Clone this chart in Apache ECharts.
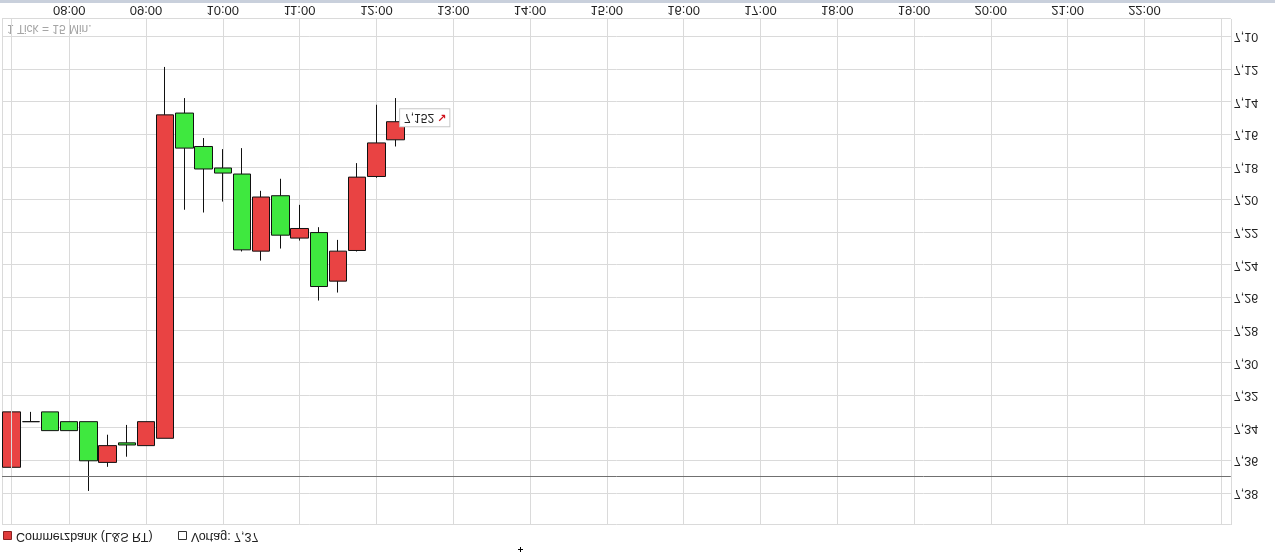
<!DOCTYPE html>
<html><head><meta charset="utf-8">
<script src="https://cdn.jsdelivr.net/npm/echarts@6/dist/echarts.min.js"></script>
<style>
html,body{margin:0;padding:0;background:#fff;overflow:hidden}
#c{width:1275px;height:553px;transform:scaleY(-1);transform-origin:50% 50%;}
</style></head><body><div id="c"></div>
<script>
// Axis categories: 15-minute slots
const slots = ['07:15','07:30','07:45',
 '08:00','08:15','08:30','08:45','09:00','09:15','09:30','09:45',
 '10:00','10:15','10:30','10:45','11:00','11:15','11:30','11:45',
 '12:00','12:15','12:30','12:45','13:00','13:15','13:30','13:45',
 '14:00','14:15','14:30','14:45','15:00','15:15','15:30','15:45',
 '16:00','16:15','16:30','16:45','17:00','17:15','17:30','17:45',
 '18:00','18:15','18:30','18:45','19:00','19:15','19:30','19:45',
 '20:00','20:15','20:30','20:45','21:00','21:15','21:30','21:45',
 '22:00','22:15','22:30','22:45','23:00'];
const hourLabels = ['08:00','09:00','10:00','11:00','12:00','13:00','14:00','15:00',
 '16:00','17:00','18:00','19:00','20:00','21:00','22:00'];
// Candles
const candleTimes = ['07:15','07:30','07:45','08:00','08:15','08:30','08:45','09:00','09:15',
 '09:30','09:45','10:00','10:15','10:30','10:45','11:00','11:15','11:30','11:45','12:00','12:15'];
const opens  = [7.364,7.336,7.330,7.336,7.336,7.361,7.349,7.3507,7.3462,
 7.1467,7.1672,7.1804,7.1841,7.2314,7.1974,7.2234,7.220,7.2498,7.231,7.1856,7.1631];
const closes = [7.330,7.336,7.3415,7.3415,7.360,7.3507,7.3503,7.336,7.1478,
 7.1682,7.181,7.1835,7.2306,7.1982,7.2216,7.2175,7.2531,7.2314,7.186,7.165,7.152];
const lows   = [7.330,7.330,7.330,7.336,7.336,7.344,7.338,7.336,7.1184,
 7.1375,7.162,7.1688,7.1682,7.1944,7.187,7.203,7.2167,7.2245,7.1774,7.1416,7.1375];
const highs  = [7.364,7.336,7.3415,7.3415,7.3785,7.3637,7.3575,7.3507,7.3462,
 7.206,7.2077,7.201,7.2316,7.2372,7.2298,7.2249,7.2617,7.2568,7.2316,7.1864,7.1672];
const vortag = 7.37;
const seriesName = 'Commerzbank (L&S RT)';

const FONT = 'Liberation Sans, Arial, sans-serif';
const GRID = '#dadada';
const UP = '#3fe83f', DOWN = '#e94343';

const candleData = slots.map(s => {
  const i = candleTimes.indexOf(s);
  return i < 0 ? '-' : [opens[i], closes[i], lows[i], highs[i]];
});
const fmt = (v, d) => v.toFixed(d).replace('.', ',');
const last = candleTimes.length - 1;

const chart = echarts.init(document.getElementById('c'), null, {renderer: 'canvas'});
chart.setOption({
  animation: false,
  backgroundColor: '#fff',
  grid: {left: 2, right: 44.2, top: 28, bottom: 19, containLabel: false},
  xAxis: [
    {type: 'category', data: slots, boundaryGap: true, show: false, position: 'bottom'},
    {type: 'value', position: 'bottom', min: 7.125, max: 23.125, splitNumber: 16,
     minInterval: 1, maxInterval: 1,
     axisLine: {show: false}, axisTick: {show: false},
     axisLabel: {margin: 3, color: '#222', fontFamily: FONT, fontSize: 13,
       showMinLabel: false, showMaxLabel: false,
       formatter: v => (Number.isInteger(v) && v >= 8 && v <= 22) ? hourLabels[v - 8] : ''},
     splitLine: {show: true, lineStyle: {color: GRID, width: 1}}}
  ],
  yAxis: {type: 'value', position: 'right', min: 7.089, max: 7.3994, splitNumber: 15,
    minInterval: 0.02, maxInterval: 0.02, scale: true,
    axisLine: {show: false}, axisTick: {show: false},
    axisLabel: {margin: 3, color: '#222', fontFamily: FONT, fontSize: 12.5,
      showMinLabel: false, showMaxLabel: false, formatter: v => fmt(v, 2)},
    splitLine: {show: true, lineStyle: {color: GRID, width: 1}}},
  series: [
    {type: 'line', xAxisIndex: 0, yAxisIndex: 0, data: [], z: 1, silent: true,
     markLine: {silent: true, symbol: 'none', animation: false, label: {show: false},
       data: [
         {xAxis: '07:15', lineStyle: {color: GRID, width: 1, type: 'solid'}},
         {yAxis: vortag, lineStyle: {color: '#707070', width: 1, type: 'solid'}}
       ]}},
    {type: 'candlestick', name: seriesName, xAxisIndex: 0, yAxisIndex: 0, z: 2,
     data: candleData, barWidth: 18,
     itemStyle: {color: UP, color0: DOWN, borderColor: '#111', borderColor0: '#111', borderWidth: 1},
     markPoint: {silent: true, animation: false,
       data: [{coord: [candleTimes[last], closes[last]], symbol: 'circle', symbolSize: 1,
         itemStyle: {color: 'rgba(0,0,0,0)'},
         label: {show: true, position: 'right', distance: 4, offset: [0, 4],
           backgroundColor: '#fff', borderColor: '#c8c8c8', borderWidth: 1,
           padding: [3, 3, 2, 4],
           formatter: '{a|' + fmt(closes[last], 3) + '}{b|↘}',
           rich: {a: {fontFamily: FONT, fontSize: 12, color: '#222'},
                  b: {fontFamily: 'DejaVu Sans', fontSize: 11, color: '#d0101a', fontWeight: 'bold', padding: [0, 0, 0, 3]}}}}]}}
  ],
  graphic: [
    {type: 'rect', left: 0, top: 550, shape: {width: 1275, height: 3}, style: {fill: '#c9d0dc'}},
    {type: 'text', left: 7, top: 519, style: {text: '1 Tick = 15 Min.', fill: '#a5a5a5', font: '12px ' + FONT}},
    {type: 'rect', left: 3, top: 13, shape: {width: 8, height: 8}, style: {fill: '#e03c3c', stroke: '#8a2222', lineWidth: 1}},
    {type: 'text', left: 16, top: 10, style: {text: seriesName, fill: '#222', font: '12.5px ' + FONT}},
    {type: 'rect', left: 178, top: 13, shape: {width: 8, height: 8}, style: {fill: '#fff', stroke: '#333', lineWidth: 1}},
    {type: 'text', left: 191, top: 10, style: {text: 'Vortag: ' + fmt(vortag, 2), fill: '#222', font: '12.5px ' + FONT}},
    {type: 'rect', left: 518, top: 3, shape: {width: 5, height: 1}, style: {fill: '#000'}},
    {type: 'rect', left: 520, top: 1, shape: {width: 1, height: 5}, style: {fill: '#000'}}
  ]
});
</script>
</body></html>
